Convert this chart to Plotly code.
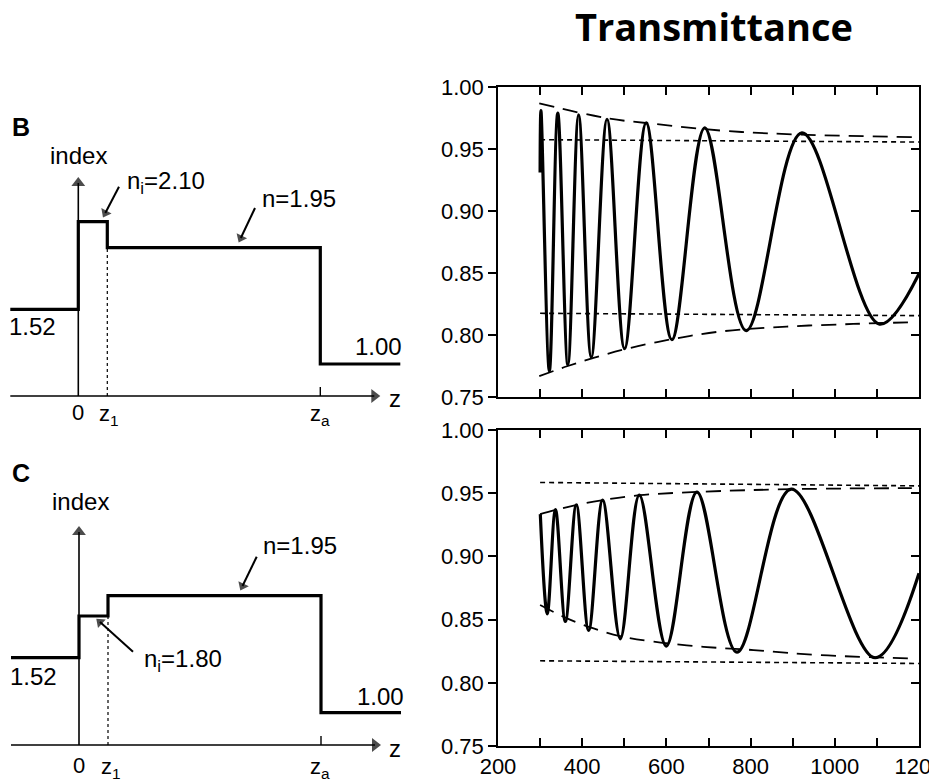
import plotly.graph_objects as go

W, H = 929, 783
FONT = "Liberation Sans, Arial, sans-serif"

# ---------------- data: transmittance vs thickness ----------------
thick_B = [300, 302, 322, 342, 366, 391.5, 421.6, 459, 500.7, 552, 613, 691, 789.6, 922, 1106, 1200]
trans_B = [0.931, 0.981, 0.771, 0.979, 0.776, 0.9775, 0.782, 0.974, 0.789, 0.971, 0.7963, 0.967, 0.8035, 0.963, 0.8088, 0.8495]

envB_up_x = [298, 459, 570, 728, 886, 1183]
envB_up_y = [0.9868, 0.9748, 0.9703, 0.9649, 0.9620, 0.9596]
envB_lo_x = [298, 364, 427, 506, 617, 728, 886, 1044, 1183]
envB_lo_y = [0.7668, 0.7748, 0.7815, 0.7889, 0.7969, 0.8028, 0.8068, 0.8089, 0.8103]
refB_x = [300, 1200]
refB_hi = [0.9575, 0.9556]
refB_lo = [0.8175, 0.8156]

thick_C = [300.5, 317, 336.5, 360, 386, 415.3, 448.5, 490.5, 535.6, 599.7, 672.5, 767.5, 896.5, 1095.9, 1200]
trans_C = [0.9334, 0.8546, 0.937, 0.8485, 0.9408, 0.8414, 0.9445, 0.8348, 0.9484, 0.829, 0.9508, 0.8242, 0.9532, 0.8198, 0.8866]

envC_up_x = [300, 338, 387, 448, 536, 672, 896, 1183]
envC_up_y = [0.9334, 0.9368, 0.9408, 0.9445, 0.9484, 0.9510, 0.9532, 0.9540]
envC_lo_x = [300, 364, 427, 490, 570, 688, 807, 965, 1183]
envC_lo_y = [0.8615, 0.8510, 0.8430, 0.8370, 0.8325, 0.8285, 0.8259, 0.8219, 0.8193]
refC_x = [300, 1200]
refC_hi = [0.9585, 0.9558]
refC_lo = [0.8174, 0.8153]

x_ticks = [200, 400, 600, 800, 1000, 1200]
x_ticktext = ["200", "400", "600", "800", "1000", "1200"]
x_minor = [300, 500, 700, 900, 1100]
y_ticks = [0.75, 0.80, 0.85, 0.90, 0.95, 1.00]
y_ticktext = ["0.75", "0.80", "0.85", "0.90", "0.95", "1.00"]

# ---------------- schematic index profiles (drawing units) ----------------
z_edges = [-68, 0, 29, 242, 322]
levels_B = [86.7, 174.3, 148.3, 32, 32]    # 1.52, 2.10, 1.95, 1.00
levels_C = [87.3, 129, 149.3, 32.3, 32.3]  # 1.52, 1.80, 1.95, 1.00

fig = go.Figure()

def seg(xa, ya, xs, ys, width=1.5, dash=None, head=0):
    mk = None
    mode = "lines"
    if head:
        mode = "lines+markers"
        mk = dict(symbol="triangle-up", size=[0] * (len(xs) - 1) + [head], angleref="previous",
                  color="black", line=dict(width=0))
    fig.add_trace(go.Scatter(x=xs, y=ys, mode=mode, marker=mk,
                             line=dict(color="black", width=width, dash=dash),
                             xaxis=xa, yaxis=ya, showlegend=False, hoverinfo="skip"))

for xa, ya, lev in (("x", "y", levels_B), ("x2", "y2", levels_C)):
    seg(xa, ya, [-68, 296], [0, 0], width=1.6, head=12)
    seg(xa, ya, [0, 0], [0, 213], width=1.6, head=12)
    seg(xa, ya, [z_edges[2], z_edges[2]], [0, lev[2]], width=1.2, dash="dot")
    seg(xa, ya, [z_edges[3], z_edges[3]], [0, 9], width=1.4)
    fig.add_trace(go.Scatter(x=z_edges, y=lev, mode="lines", line_shape="hv",
                             line=dict(color="black", width=3.2), xaxis=xa, yaxis=ya,
                             showlegend=False, hoverinfo="skip"))

# label pointer arrows
seg("x", "y", [40.7, 27], [209.3, 183], width=2, head=10)
seg("x", "y", [176.7, 162.5], [188, 158], width=2, head=10)
seg("x2", "y2", [54, 21], [93.3, 123], width=2, head=10)
seg("x2", "y2", [177.7, 163.5], [188.3, 159], width=2, head=10)

def add_right(xa, ya, tx, ty, eux, euy, elx, ely, rx, rhi, rlo):
    for yy in (rhi, rlo):
        fig.add_trace(go.Scatter(x=rx, y=yy, mode="lines",
                                 line=dict(color="black", width=1.6, dash="5px,4px"),
                                 xaxis=xa, yaxis=ya, showlegend=False, hoverinfo="skip"))
    for xx, yy in ((eux, euy), (elx, ely)):
        fig.add_trace(go.Scatter(x=xx, y=yy, mode="lines", line_shape="spline",
                                 line=dict(color="black", width=1.8, dash="15px,9px"),
                                 xaxis=xa, yaxis=ya, showlegend=False, hoverinfo="skip"))
    fig.add_trace(go.Scatter(x=tx, y=ty, mode="lines", line_shape="spline",
                             line=dict(color="black", width=3.2),
                             xaxis=xa, yaxis=ya, showlegend=False, hoverinfo="skip"))

add_right("x3", "y3", thick_B, trans_B, envB_up_x, envB_up_y, envB_lo_x, envB_lo_y, refB_x, refB_hi, refB_lo)
add_right("x4", "y4", thick_C, trans_C, envC_up_x, envC_up_y, envC_lo_x, envC_lo_y, refC_x, refC_hi, refC_lo)
fig.add_trace(go.Scatter(x=[200], y=[0.75], mode="markers", marker=dict(opacity=0), xaxis="x3", yaxis="y5", showlegend=False, hoverinfo="skip"))
fig.add_trace(go.Scatter(x=[200], y=[0.75], mode="markers", marker=dict(opacity=0), xaxis="x4", yaxis="y6", showlegend=False, hoverinfo="skip"))

xdom_L = [0, 420 / W]
xdom_R = [498 / W, 919 / W]
ydom_B = [1 - 420 / H, 1 - 100 / H]
ydom_C = [0, 1 - 440 / H]
ydom_RT = [1 - 397 / H, 1 - 87 / H]
ydom_RB = [1 - 746 / H, 1 - 430 / H]

hidden = dict(visible=False, showgrid=False, zeroline=False, fixedrange=True)
ax_common = dict(showgrid=False, zeroline=False, showline=True, linecolor="black", linewidth=1.5,
                 tickcolor="black", tickwidth=1.5, ticklen=8, automargin=False,
                 tickfont=dict(family=FONT, size=22, color="black"))
minor_x = dict(tickvals=x_minor, ticks="inside", ticklen=8, tickwidth=1.5, tickcolor="black", showgrid=False)

fig.update_layout(
    width=W, height=H, margin=dict(l=0, r=0, t=0, b=0, autoexpand=False),
    paper_bgcolor="white", plot_bgcolor="white", showlegend=False,
    xaxis=dict(domain=xdom_L, range=[-78.3, 341.7], anchor="y", **hidden),
    yaxis=dict(domain=ydom_B, range=[-24, 296], anchor="x", **hidden),
    xaxis2=dict(domain=xdom_L, range=[-79, 341], anchor="y2", **hidden),
    yaxis2=dict(domain=ydom_C, range=[-38, 305], anchor="x2", **hidden),
    xaxis3=dict(domain=xdom_R, range=[200, 1200], anchor="y3", tickvals=x_ticks, minor=minor_x,
                showticklabels=False, ticks="inside", mirror="ticks", **ax_common),
    yaxis3=dict(domain=ydom_RT, range=[0.75, 1.0], anchor="x3", tickvals=y_ticks, ticktext=y_ticktext,
                ticks="outside", mirror=True, **ax_common),
    yaxis5=dict(overlaying="y3", side="right", anchor="x3", range=[0.75, 1.0], tickvals=y_ticks,
                ticks="inside", showticklabels=False, showline=False, showgrid=False, zeroline=False,
                tickcolor="black", tickwidth=1.5, ticklen=8, automargin=False),
    xaxis4=dict(domain=xdom_R, range=[200, 1200], anchor="y4", tickvals=x_ticks, ticktext=x_ticktext,
                minor=minor_x, ticks="inside", mirror="ticks", ticklabeloverflow="allow", **ax_common),
    yaxis4=dict(domain=ydom_RB, range=[0.75, 1.0], anchor="x4", tickvals=y_ticks, ticktext=y_ticktext,
                ticks="outside", mirror=True, **ax_common),
    yaxis6=dict(overlaying="y4", side="right", anchor="x4", range=[0.75, 1.0], tickvals=y_ticks,
                ticks="inside", showticklabels=False, showline=False, showgrid=False, zeroline=False,
                tickcolor="black", tickwidth=1.5, ticklen=8, automargin=False),
)

ann = []
def text(xr, yr, x, y, t, size=24, bold=False, xanchor="center"):
    ann.append(dict(xref=xr, yref=yr, x=x, y=y, text=(f"<b>{t}</b>" if bold else t), showarrow=False,
                    xanchor=xanchor, yanchor="middle",
                    font=dict(family=FONT, size=size, color="black")))

text("x", "y", -57, 269, "B", size=25, bold=True)
text("x", "y", 0, 241, "index", size=24)
text("x", "y", 88, 214, "n<sub>i</sub>=2.10", size=24)
text("x", "y", 221, 198, "n=1.95", size=24)
text("x", "y", -46, 69.5, "1.52", size=24)
text("x", "y", 300, 49.5, "1.00", size=24)
text("x", "y", 316.7, -2, "z", size=24)
text("x", "y", 0, -16, "0", size=22)
text("x", "y", 31, -19, "z<sub>1</sub>", size=22)
text("x", "y", 242, -19, "z<sub>a</sub>", size=22)

text("x2", "y2", -58, 272, "C", size=25, bold=True)
text("x2", "y2", 1, 243.3, "index", size=24)
text("x2", "y2", 104, 85, "n<sub>i</sub>=1.80", size=24)
text("x2", "y2", 221, 200, "n=1.95", size=24)
text("x2", "y2", -46, 68.3, "1.52", size=24)
text("x2", "y2", 301, 48.3, "1.00", size=24)
text("x2", "y2", 316, -3.3, "z", size=24)
text("x2", "y2", 0, -20, "0", size=22)
text("x2", "y2", 32, -23, "z<sub>1</sub>", size=22)
text("x2", "y2", 241, -23, "z<sub>a</sub>", size=22)

ann.append(dict(xref="paper", yref="paper", x=714 / W, y=1 - 26 / H, text="<b>Transmittance</b>",
                showarrow=False, xanchor="center", yanchor="middle",
                font=dict(family="Open Sans, sans-serif", size=38, color="black")))

fig.update_layout(annotations=ann)
fig.write_html("out.html")
